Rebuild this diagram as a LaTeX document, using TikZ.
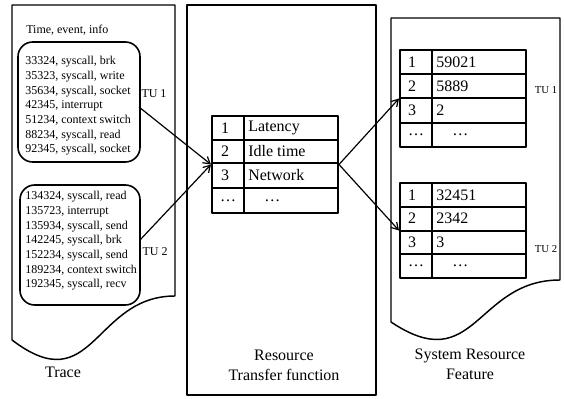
\documentclass[tikz,border=0pt]{standalone}
\usepackage{fontspec}
\setmainfont{Liberation Serif}
\usetikzlibrary{arrows.meta}
\begin{document}
\begin{tikzpicture}[x=0.75pt,y=-0.75pt,line join=round,
  frame/.style={draw,line width=1.1pt},
  tuframe/.style={draw,line width=1.2pt,rounded corners=11pt,inner sep=0pt},
  tbl/.style={draw,line width=1.5pt,inner sep=0pt,minimum width=94.5pt},
  tline/.style={line width=1.5pt},
  small/.style={font=\fontsize{9}{11}\selectfont,inner sep=0pt},
  tiny/.style={font=\fontsize{8}{10}\selectfont,inner sep=0pt},
  big/.style={font=\fontsize{12}{15}\selectfont,inner sep=0pt},
  conn/.style={draw,line width=0.9pt,-{Straight Barb[length=5pt,width=6pt]}}]
\useasboundingbox (0,0) rectangle (564,399);

% ---------- Trace document ----------
\draw[frame] (12,5) -- (175,5) -- (175,296)
  .. controls (93.5,296) and (93.5,402) .. (12,340) -- cycle;
\node[small,anchor=west] (hdr) at (26,30) {Time, event, info};
\node[tuframe,minimum width=91.5pt,minimum height=90pt] (tu1) at (79,102) {};
\node[small,align=left,anchor=west] (tu1txt) at (25,106) {33324, syscall, brk\\35323, syscall, write\\35634, syscall, socket\\42345, interrupt\\51234, context switch\\88234, syscall, read\\92345, syscall, socket};
\node[small] (tu1lbl) at (154,94) {TU 1};
\node[tuframe,minimum width=90pt,minimum height=90pt] (tu2) at (80,245) {};
\node[small,align=left,anchor=west] (tu2txt) at (25,241) {134324, syscall, read\\135723, interrupt\\135934, syscall, send\\142245, syscall, brk\\152234, syscall, send\\189234, context switch\\192345, syscall, recv};
\node[small] (tu2lbl) at (155,252) {TU 2};
\node[big] (trace) at (63,372) {Trace};

% ---------- Resource transfer function ----------
\node[frame,inner sep=0pt,minimum width=141.75pt,minimum height=292.5pt] (rtf) at (281.5,200) {};
\node[tbl,minimum height=72.75pt] (tab) at (275,164.5) {};
\draw[tline] (244,116) -- (244,213);
\foreach \yy in {140,163,188} \draw[tline] (212,\yy) -- (338,\yy);
\foreach \i/\yy/\a/\b/\cx in {1/128/1/Latency/225,2/151.5/2/Idle time/225,3/175.5/3/Network/225,4/200.5/\dots/\dots/228}{
  \node[big] (tn\i) at (\cx,\yy) {\a};
  \node[big,anchor=west] (tv\i) at (248,\yy) {\ifnum\i=4 \hspace{1em}\fi\b};
}
\node[big,align=center] (rtflbl) at (284,365) {Resource\\Transfer function};

% ---------- System resource feature ----------
\draw[frame] (391,18) -- (560,18) -- (560,280)
  .. controls (475.5,280) and (475.5,378.5) .. (391,322) -- cycle;
\node[tbl,minimum height=72.75pt] (ta) at (463,98.5) {};
\draw[tline] (432,50) -- (432,147);
\foreach \yy in {74.25,98.5,122.75} \draw[tline] (400,\yy) -- (526,\yy);
\foreach \i/\yy/\a/\b/\cx in {1/62.1/1/59021/412,2/86.4/2/5889/412,3/110.6/3/2/412,4/134.9/\dots/\dots/416}{
  \node[big] (an\i) at (\cx,\yy) {\a};
  \node[big,anchor=west] (av\i) at (436,\yy) {\ifnum\i=4 \hspace{1em}\fi\b};
}
\node[tiny] (talbl) at (546,90) {TU 1};
\node[tbl,minimum height=71.25pt] (tb) at (463,230.5) {};
\draw[tline] (432,183) -- (432,278);
\foreach \yy in {206.75,230.5,254.25} \draw[tline] (400,\yy) -- (526,\yy);
\foreach \i/\yy/\a/\b/\cx in {1/194.9/1/32451/412,2/218.6/2/2342/412,3/242.4/3/3/412,4/266.1/\dots/\dots/416}{
  \node[big] (bn\i) at (\cx,\yy) {\a};
  \node[big,anchor=west] (bv\i) at (436,\yy) {\ifnum\i=4 \hspace{1em}\fi\b};
}
\node[tiny] (tblbl) at (546,249) {TU 2};
\node[big,align=center] (srflbl) at (470,364) {System Resource\\Feature};

% ---------- connectors ----------
\coordinate (s1) at (139,107);
\coordinate (s2) at (140,240);
\draw[conn] (s1) -- (tab.west);
\draw[conn] (s2) -- (tab.west);
\draw[conn] (tab.east) -- (ta.west);
\draw[conn] (tab.east) -- (tb.west);
\end{tikzpicture}
\end{document}
